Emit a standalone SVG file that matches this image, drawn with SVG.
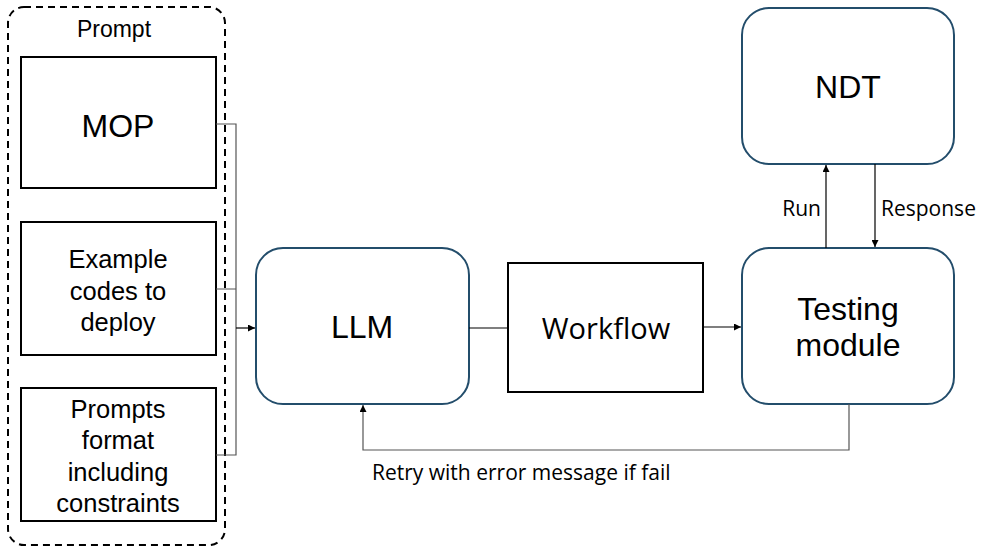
<svg xmlns="http://www.w3.org/2000/svg" width="989" height="547" viewBox="0 0 989 547">
<defs>
<style>
.sq{fill:#fff;stroke:#000;stroke-width:2}
.rd{fill:#fff;stroke:#234d6b;stroke-width:2}
.t{font-family:"Liberation Sans",Arial,sans-serif;fill:#000;text-anchor:middle}
.big{font-size:32px}
.mid{font-size:25.5px}
.sm{font-family:"Open Sans","Liberation Sans",sans-serif;font-size:21px;fill:#000}
.ln{fill:none;stroke:#000;stroke-width:1.2}
.gl{fill:none;stroke:#555;stroke-width:1.2}
</style>
<marker id="ah" viewBox="0 0 10 10" refX="10" refY="5" markerWidth="7" markerHeight="7" orient="auto" markerUnits="userSpaceOnUse"><path d="M0,0 L10,5 L0,10 z" fill="#000"/></marker>
</defs>
<rect width="989" height="547" fill="#fff"/>
<g id="prompt">
<rect x="8" y="7" width="217" height="538" rx="16" fill="none" stroke="#000" stroke-width="2" stroke-dasharray="7,5"/>
<text class="t" x="114" y="37" font-size="23">Prompt</text>
</g>
<g id="mop">
<rect class="sq" x="21" y="57" width="195" height="131"/>
<text class="t big" x="118" y="137">MOP</text>
</g>
<g id="example">
<rect class="sq" x="21" y="222" width="195" height="133"/>
<text class="t mid" x="118" y="268">Example</text>
<text class="t mid" x="118" y="300">codes to</text>
<text class="t mid" x="118" y="331">deploy</text>
</g>
<g id="format">
<rect class="sq" x="21" y="388" width="195" height="133"/>
<text class="t mid" x="118" y="418">Prompts</text>
<text class="t mid" x="118" y="449">format</text>
<text class="t mid" x="118" y="481">including</text>
<text class="t mid" x="118" y="512">constraints</text>
</g>
<g id="llm">
<rect class="rd" x="256" y="248" width="213" height="156" rx="27"/>
<text class="t big" x="362" y="338">LLM</text>
</g>
<g id="workflow">
<rect class="sq" x="508" y="263" width="195" height="129"/>
<text class="t big" x="606" y="339" style="font-family:'Open Sans','Liberation Sans',sans-serif;font-size:29px">Workflow</text>
</g>
<g id="testing">
<rect class="rd" x="742" y="248" width="212" height="156" rx="27"/>
<text class="t big" x="848" y="320">Testing</text>
<text class="t big" x="848" y="356">module</text>
</g>
<g id="ndt">
<rect class="rd" x="742" y="8" width="212" height="156" rx="27"/>
<text class="t big" x="848" y="98">NDT</text>
</g>
<g id="connectors">
<path class="gl" d="M216,124 H236 V455 H216 M216,289 H236"/>
<path class="ln" d="M236,328 H255" marker-end="url(#ah)"/>
<path class="ln" d="M469,328 H508"/>
<path class="ln" d="M703,327 H741" marker-end="url(#ah)"/>
<path class="ln" d="M826,248 V165" marker-end="url(#ah)"/>
<path class="ln" d="M875,164 V247" marker-end="url(#ah)"/>
<path class="gl" d="M849,404 V450 H363 V405" marker-end="url(#ah)"/>
<text class="sm" x="821" y="216" text-anchor="end">Run</text>
<text class="sm" x="881" y="216">Response</text>
<text class="sm" x="372" y="480">Retry with error message if fail</text>
</g>
</svg>
